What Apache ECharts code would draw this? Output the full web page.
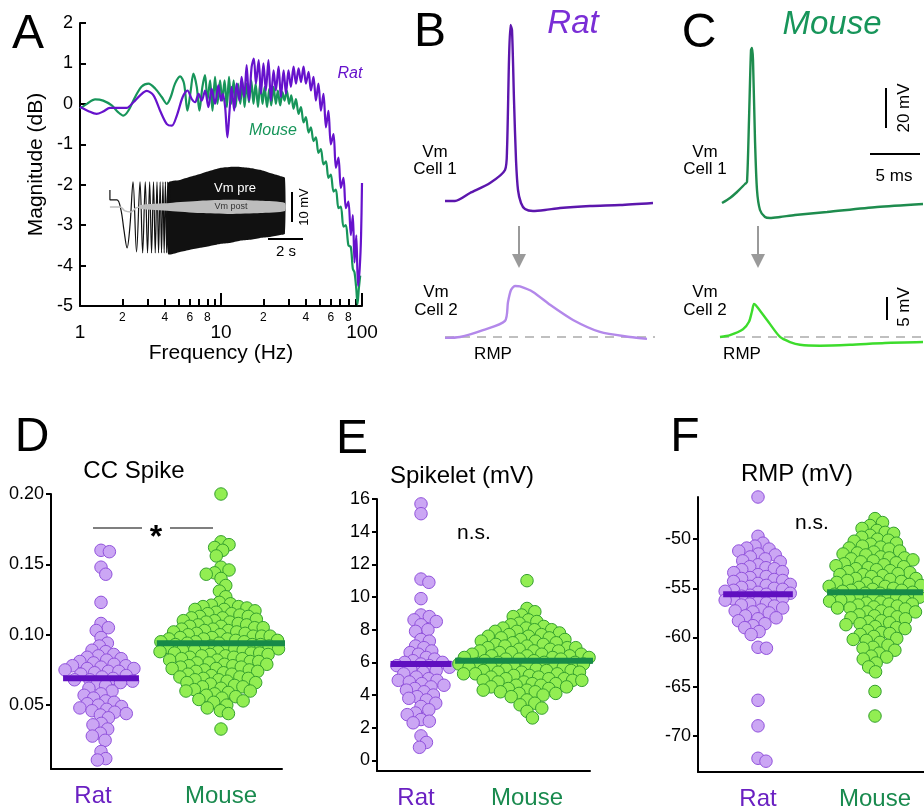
<!DOCTYPE html>
<html><head><meta charset="utf-8">
<script src="https://cdn.jsdelivr.net/npm/echarts@6/dist/echarts.min.js"></script>
<style>html,body{margin:0;padding:0;background:#fff}#c{width:924px;height:809px}</style>
</head><body><div id="c"></div>
<script>
// ---------------- DATA ----------------
// Panel A: frequency response (Hz, dB)
const ratFreq = [1.00,1.15,1.31,1.46,1.63,1.87,2.14,2.39,2.67,2.97,3.32,3.70,4.13,4.48,4.86,5.35,5.78,6.20,6.56,6.93,7.30,7.71,8.14,8.59,9.07,9.58,10.0,10.3,10.7,11.1,11.5,11.9,12.4,12.9,13.5,14.0,14.6,15.2,15.8,16.5,17.1,17.7,18.5,19.2,20.0,20.8,21.7,22.6,23.6,24.5,25.6,26.6,27.8,28.9,30.1,31.3,32.7,34.0,35.5,36.9,38.5,40.0,41.8,43.4,45.3,47.1,49.1,51.1,53.3,55.5,57.8,60.1,62.8,65.3,68.1,70.8,73.9,76.8,80.1,83.3,86.1,88.5,91.1,93.7,96.3,98.5,100];
const ratDb = [-0.07,-0.18,-0.25,-0.19,-0.10,-0.10,-0.10,0.04,0.21,0.32,0.21,-0.17,-0.50,-0.54,-0.29,0.17,0.33,0.12,0.04,0.25,0.08,0.33,-0.08,0.37,0.0,0.46,0.08,0.25,-0.08,-0.83,-0.17,0.42,-0.17,0.5,0.08,0.67,0.17,0.96,0.08,0.92,1.12,0.5,1.08,0.25,1.0,0.33,1.08,0.08,0.83,0.33,0.92,0.17,0.83,0.25,0.83,0.42,0.92,0.5,0.88,0.54,0.92,0.5,0.79,0.33,0.67,0.08,0.5,-0.17,0.25,-0.58,-0.17,-1.0,-0.75,-1.58,-1.33,-2.08,-1.83,-2.58,-2.42,-3.25,-2.75,-3.92,-3.25,-4.5,-4.08,-3.25,-1.96];
const mouseFreq = [1.0,1.12,1.28,1.46,1.68,1.87,2.03,2.20,2.46,2.74,3.06,3.41,3.80,4.13,4.40,4.72,5.13,5.47,5.78,6.10,6.37,6.73,7.03,7.38,7.71,8.01,8.37,8.70,9.07,9.43,9.85,10.2,10.6,11.0,11.4,11.8,12.3,12.7,13.2,13.7,14.2,14.7,15.2,15.8,16.4,17.0,17.6,18.3,19.0,19.7,20.4,21.2,22.0,22.7,23.6,24.5,25.3,26.3,27.3,28.2,29.3,30.4,31.5,32.7,34.0,35.5,36.9,38.5,40.0,41.8,43.4,45.3,47.1,49.1,51.1,53.3,55.5,57.8,60.1,62.8,65.3,68.1,70.8,73.9,76.8,80.1,83.3,86.1,88.5,91.1,92.9,94.9,97.1];
const mouseDb = [-0.12,0.0,0.11,0.08,-0.04,-0.21,-0.29,-0.17,0.17,0.43,0.5,0.38,0.17,0.0,0.17,0.5,0.68,0.5,-0.17,0.33,0.75,0.42,-0.17,0.42,0.71,0.08,0.58,-0.17,0.67,0.0,0.58,0.08,0.58,-0.08,0.67,0.0,0.58,-0.08,0.5,0.0,0.54,-0.08,0.5,0.04,0.58,0.0,0.5,-0.08,0.54,0.0,0.42,-0.08,0.38,-0.04,0.42,0.0,0.33,-0.04,0.29,0.08,0.33,0.0,0.21,-0.12,0.12,-0.25,-0.08,-0.46,-0.33,-0.71,-0.58,-0.92,-0.83,-1.21,-1.12,-1.5,-1.42,-1.83,-1.75,-2.17,-2.12,-2.58,-2.54,-3.04,-3.0,-3.5,-3.54,-4.08,-4.17,-4.58,-4.96,-4.58,-4.25];
const freqMinorTicks = [2,3,4,5,6,7,8,9,20,30,40,50,60,70,80,90];
const freqMinorLabels = [2,4,6,8,20,40,60,80];
const magTicks = [-5,-4,-3,-2,-1,0,1,2];

// Panel A inset: chirp (s, mV)
const chirpT = [0.11,0.11,0.51,0.74,0.91,1.09,1.26,1.43,1.63,1.83,1.98,2.13,2.26,2.38,2.49,2.60,2.70,2.80,2.89,2.98,3.06,3.14,3.21,3.28,3.35,3.41,3.47,3.53];
const chirpV = [5.3,2.2,2.2,-0.9,-7.2,-12.8,-5.6,7.8,-14.1,7.8,-14.4,7.8,-14.4,7.8,-14.4,7.8,-14.4,7.8,-14.4,7.8,-14.4,7.8,-14.4,7.8,-14.4,7.8,-14.4,7.8];
const envT   = [3.43,4.11,4.69,5.26,5.83,6.40,6.97,7.54,8.11,8.69,9.26,9.83,10.11];
const envTop = [7.5,8.4,9.4,10.3,11.3,12.2,12.5,12.5,12.2,11.6,10.6,9.7,9.1];
const envBot = [-14.7,-14.1,-13.4,-12.8,-12.2,-11.6,-11.3,-10.6,-10.3,-9.7,-9.4,-8.8,-8.4];
const postLineT = [0.11,0.69,0.97,1.31,1.60,1.83];
const postLineV = [0,0,-1.25,-1.56,-0.31,0];
const bandT   = [1.83,3.54,5.26,6.97,8.69,10.11];
const bandTop = [0.6,1.25,1.9,2.2,1.9,1.25];
const bandBot = [-0.6,-1.25,-1.9,-2.2,-1.9,-1.25];

// Panels B / C: example traces (ms, mV relative to rest)
const ratCell1T = [0,1,2.5,4.5,6.0,6.2,6.4,6.55,6.7,6.9,7.1,7.3,7.6,8.0,8.8,10,11.5,14.5,17.5,20.8];
const ratCell1V = [0,0,4,9,15.5,25.5,70.5,88,85.5,50.5,20.5,5.5,-1,-4,-5,-4.5,-3.5,-2.5,-2,-1];
const ratCell2T = [0,1.5,3.8,6.0,6.3,6.6,7.0,7.5,8.8,10.5,12.8,15.5,18.5,20.2];
const ratCell2V = [-0.2,0,1.5,3.5,7.6,10.2,11.1,11.0,9.8,7.0,3.7,1.1,0,-0.4];
const mouseCell1T = [0.2,1.0,1.7,2.5,2.7,2.9,3.1,3.2,3.3,3.5,3.7,4.0,4.5,5.0,6.0,7.5,10.7,15.7,20.3];
const mouseCell1V = [0,2.5,5.5,9.5,10.5,41.5,76.5,77.5,71.5,31.5,6.5,-3.5,-7,-7.5,-7,-6,-4.5,-2,-0.5];
const mouseCell2T = [0,1,2.3,2.9,3.2,3.4,3.7,4.7,6.0,7.0,8.0,10,13,16.5,20.3];
const mouseCell2V = [0,0.4,1.7,3.3,5.6,7.2,6.6,3.7,0,-1.1,-1.7,-1.9,-1.7,-1.3,-1.1];

// Panels D / E / F: group values
const groups = ['Rat', 'Mouse'];
const ccRat = [0.160,0.159,0.148,0.143,0.123,0.108,0.105,0.103,0.098,0.094,0.092,0.089,0.088,0.086,0.085,0.084,0.083,0.082,0.081,0.080,0.079,0.078,0.078,0.077,0.076,0.076,0.075,0.074,0.074,0.073,0.072,0.071,0.070,0.069,0.068,0.068,0.067,0.066,0.065,0.064,0.062,0.060,0.058,0.057,0.055,0.053,0.052,0.051,0.050,0.049,0.048,0.047,0.046,0.045,0.044,0.043,0.041,0.037,0.036,0.033,0.030,0.028,0.025,0.017,0.012,0.011];
const ccMouse = [0.200,0.166,0.164,0.162,0.160,0.156,0.148,0.146,0.144,0.143,0.140,0.135,0.131,0.127,0.123,0.122,0.121,0.120,0.120,0.119,0.118,0.118,0.117,0.116,0.115,0.115,0.114,0.113,0.113,0.112,0.112,0.111,0.110,0.110,0.109,0.109,0.108,0.107,0.107,0.106,0.106,0.105,0.105,0.104,0.104,0.103,0.103,0.102,0.102,0.101,0.101,0.100,0.100,0.099,0.099,0.099,0.098,0.098,0.097,0.097,0.097,0.096,0.096,0.095,0.095,0.095,0.094,0.094,0.093,0.093,0.093,0.092,0.092,0.091,0.091,0.091,0.090,0.090,0.089,0.089,0.089,0.088,0.088,0.087,0.087,0.087,0.086,0.086,0.085,0.085,0.085,0.084,0.084,0.083,0.083,0.082,0.082,0.081,0.081,0.080,0.080,0.079,0.079,0.078,0.078,0.077,0.077,0.076,0.076,0.075,0.075,0.074,0.074,0.073,0.072,0.072,0.071,0.070,0.070,0.069,0.069,0.068,0.068,0.067,0.066,0.066,0.065,0.064,0.063,0.063,0.062,0.061,0.060,0.060,0.059,0.058,0.057,0.056,0.055,0.054,0.053,0.052,0.050,0.048,0.046,0.044,0.033];
const ccMedian = [0.069, 0.094];
const ccTicks = [0.05, 0.10, 0.15, 0.20];
const spkRat = [15.7,15.1,11.1,10.9,9.9,8.9,8.8,8.6,8.5,8.3,8.0,7.9,7.4,7.3,7.0,6.9,6.7,6.6,6.5,6.3,6.2,6.1,6.0,6.0,5.9,5.8,5.8,5.7,5.6,5.5,5.4,5.3,5.1,5.0,4.9,4.9,4.8,4.7,4.6,4.5,4.4,4.3,4.2,4.0,3.9,3.8,3.7,3.5,3.3,3.1,2.9,2.8,2.5,2.4,2.3,1.5,1.1,0.8];
const spkMouse = [11.0,9.3,9.1,8.9,8.8,8.6,8.5,8.4,8.3,8.2,8.1,8.1,8.0,8.0,7.9,7.9,7.8,7.7,7.7,7.6,7.6,7.5,7.5,7.4,7.4,7.3,7.3,7.2,7.2,7.1,7.1,7.0,7.0,6.9,6.9,6.9,6.8,6.8,6.7,6.7,6.7,6.6,6.6,6.5,6.5,6.5,6.4,6.4,6.4,6.3,6.3,6.3,6.2,6.2,6.2,6.1,6.1,6.1,6.0,6.0,6.0,5.9,5.9,5.9,5.8,5.8,5.8,5.7,5.7,5.7,5.6,5.6,5.6,5.5,5.5,5.5,5.4,5.4,5.4,5.3,5.3,5.3,5.2,5.2,5.2,5.1,5.1,5.0,5.0,5.0,4.9,4.9,4.9,4.8,4.8,4.7,4.7,4.6,4.6,4.5,4.5,4.4,4.4,4.3,4.3,4.2,4.2,4.1,4.1,4.0,3.9,3.7,3.5,3.4,3.2,3.0,2.6];
const spkMedian = [5.9, 6.1];
const spkTicks = [0,2,4,6,8,10,12,14,16];
const rmpRat = [-45.7,-49.7,-50.4,-50.7,-50.9,-51.0,-51.2,-51.5,-51.6,-51.8,-52.0,-52.2,-52.3,-52.6,-52.8,-52.9,-53.0,-53.1,-53.3,-53.4,-53.6,-53.8,-53.9,-54.0,-54.1,-54.2,-54.3,-54.5,-54.6,-54.7,-54.8,-54.9,-55.0,-55.1,-55.2,-55.3,-55.4,-55.5,-55.6,-55.7,-55.8,-55.9,-56.0,-56.1,-56.2,-56.4,-56.5,-56.6,-56.7,-56.8,-57.0,-57.2,-57.3,-57.4,-57.5,-57.8,-58.0,-58.1,-58.3,-58.6,-58.8,-59.0,-59.4,-59.7,-61.0,-61.1,-66.4,-69.0,-72.3,-72.6];
const rmpMouse = [-47.9,-48.3,-48.6,-48.9,-49.1,-49.3,-49.4,-49.6,-49.8,-50.0,-50.1,-50.2,-50.4,-50.5,-50.7,-50.8,-50.9,-51.0,-51.2,-51.3,-51.4,-51.5,-51.6,-51.8,-51.9,-51.9,-52.0,-52.1,-52.2,-52.3,-52.4,-52.5,-52.6,-52.7,-52.8,-52.9,-53.0,-53.1,-53.2,-53.3,-53.4,-53.5,-53.6,-53.6,-53.7,-53.8,-54.0,-54.0,-54.1,-54.2,-54.3,-54.4,-54.4,-54.5,-54.6,-54.7,-54.8,-54.8,-54.9,-55.0,-55.1,-55.2,-55.2,-55.3,-55.4,-55.5,-55.5,-55.6,-55.7,-55.8,-55.9,-55.9,-56.0,-56.1,-56.2,-56.2,-56.3,-56.4,-56.5,-56.6,-56.6,-56.7,-56.8,-56.9,-57.0,-57.0,-57.1,-57.3,-57.4,-57.4,-57.5,-57.7,-57.8,-57.9,-58.0,-58.1,-58.3,-58.4,-58.5,-58.6,-58.7,-58.9,-59.0,-59.1,-59.3,-59.5,-59.6,-59.7,-59.9,-60.1,-60.2,-60.3,-60.5,-60.8,-61.0,-61.1,-61.3,-61.6,-61.9,-62.0,-62.2,-62.6,-63.0,-63.5,-65.5,-68.0];
const rmpMedian = [-55.6, -55.4];
const rmpTicks = [-70,-65,-60,-55,-50];

// ---------------- STYLE ----------------
const FONT = "'Liberation Sans', Arial, Helvetica, sans-serif";
const COL = {
  ratLine:'#6612cc', mouseLine:'#17955a',
  ratTitle:'#7a2ed6', mouseTitle:'#17955a',
  ratTrace1:'#5c16ad', ratTrace2:'#b388ea',
  mouseTrace1:'#1e8c4e', mouseTrace2:'#3ddc2c',
  ratFill:'#cba6f4', ratEdge:'#9152dc', mouseFill:'#92ee52', mouseEdge:'#35a02e',
  ratMed:'#600fc0', mouseMed:'#178a48', ratLabel:'#6a20c2', mouseLabel:'#198a4e'
};

const chart = echarts.init(document.getElementById('c'), null, {width:924, height:809});

const grids = [], xAxes = [], yAxes = [], series = [];
const hidden = (gi, min, max) => ({type:'value', gridIndex:gi, min, max, show:false, axisLine:{onZero:false}});

// ---- Panel A ----
grids.push({left:80, top:23, width:282, height:283});
xAxes.push({type:'log', gridIndex:0, logBase:10, min:1, max:100, position:'bottom',
  axisLine:{onZero:false, lineStyle:{color:'#000', width:2}},
  axisTick:{inside:true, length:13, lineStyle:{color:'#000', width:2}},
  axisLabel:{color:'#000', fontSize:19, margin:17, fontFamily:FONT},
  splitLine:{show:false}, minorTick:{show:false},
  name:'Frequency (Hz)', nameLocation:'middle', nameGap:37,
  nameTextStyle:{color:'#000', fontSize:21, fontFamily:FONT}});
xAxes.push({type:'value', gridIndex:0, min:0, max:2, position:'bottom',
  axisLine:{show:false, onZero:false},
  axisTick:{show:true, inside:true, length:7, customValues:freqMinorTicks.map(Math.log10), lineStyle:{color:'#000', width:2}},
  axisLabel:{show:true, color:'#000', fontSize:12, margin:6, fontFamily:FONT,
    customValues:freqMinorLabels.map(Math.log10),
    formatter:v=>{const f=Math.round(Math.pow(10,v)); return String(f>=10?f/10:f);}},
  splitLine:{show:false}});
yAxes.push({type:'value', gridIndex:0, min:-5, max:2, interval:1,
  axisLine:{show:true, onZero:false, lineStyle:{color:'#000', width:2}},
  axisTick:{show:true, inside:true, length:6, customValues:magTicks, lineStyle:{color:'#000', width:2}},
  axisLabel:{color:'#000', fontSize:18, margin:7, fontFamily:FONT, customValues:magTicks},
  splitLine:{show:false},
  name:'Magnitude (dB)', nameLocation:'middle', nameGap:33,
  nameTextStyle:{color:'#000', fontSize:21, fontFamily:FONT}});
series.push({type:'line', xAxisIndex:0, yAxisIndex:0, data:mouseFreq.map((f,i)=>[f, mouseDb[i]]),
  symbol:'none', smooth:0.3, lineStyle:{color:COL.mouseLine, width:2.2}, silent:true});
series.push({type:'line', xAxisIndex:0, yAxisIndex:0, data:ratFreq.map((f,i)=>[f, ratDb[i]]),
  symbol:'none', smooth:0.3, lineStyle:{color:COL.ratLine, width:2.2}, silent:true});

// ---- Panel A inset ----
grids.push({left:108, top:165, width:180, height:95});
xAxes.push(hidden(1, 0, 180/17.5));
yAxes.push(hidden(1, -16.6, 13.1));
const polySeries = (tArr, topArr, botArr, fill, z) => ({
  type:'custom', xAxisIndex:2, yAxisIndex:1, data:[[tArr[0], topArr[0]]], silent:true, clip:false, z,
  renderItem:(p, api)=>{
    const pts = [];
    tArr.forEach((t,i)=>pts.push(api.coord([t, topArr[i]])));
    for (let i=tArr.length-1;i>=0;i--) pts.push(api.coord([tArr[i], botArr[i]]));
    return {type:'polygon', shape:{points:pts, smooth:0.2}, style:{fill}};
  }});
series.push(polySeries(envT, envTop, envBot, '#111', 2));
series.push({type:'line', xAxisIndex:2, yAxisIndex:1, data:chirpT.map((t,i)=>[t, chirpV[i]]),
  symbol:'none', smooth:0.35, lineStyle:{color:'#111', width:1.2}, silent:true, z:2});
series.push(polySeries(bandT, bandTop, bandBot, '#bdbdbd', 3));
series.push({type:'line', xAxisIndex:2, yAxisIndex:1, data:postLineT.map((t,i)=>[t, postLineV[i]]),
  symbol:'none', smooth:0.4, lineStyle:{color:'#bdbdbd', width:1.5}, silent:true, z:3});

// ---- Panels B / C traces ----
const traceGrids = [
  {left:445, top:20, width:210, height:200, x:[0,21], y:[-9.5,90.5], T:ratCell1T, V:ratCell1V, c:COL.ratTrace1, rmp:false},
  {left:445, top:270, width:210, height:80, x:[0,21], y:[-2.83,14.57], T:ratCell2T, V:ratCell2V, c:COL.ratTrace2, rmp:true},
  {left:720, top:20, width:204, height:200, x:[0,20.4], y:[-8.5,91.5], T:mouseCell1T, V:mouseCell1V, c:COL.mouseTrace1, rmp:false},
  {left:720, top:270, width:204, height:80, x:[0,20.4], y:[-2.83,14.57], T:mouseCell2T, V:mouseCell2V, c:COL.mouseTrace2, rmp:true}
];
traceGrids.forEach(g=>{
  const gi = grids.length;
  grids.push({left:g.left, top:g.top, width:g.width, height:g.height});
  xAxes.push(hidden(gi, g.x[0], g.x[1]));
  yAxes.push(hidden(gi, g.y[0], g.y[1]));
  const s = {type:'line', xAxisIndex:xAxes.length-1, yAxisIndex:yAxes.length-1,
    data:g.T.map((t,i)=>[t, g.V[i]]), symbol:'none', smooth:0.25,
    lineStyle:{color:g.c, width:2.4}, silent:true, z:3};
  if (g.rmp) s.markLine = {silent:true, symbol:'none', label:{show:false},
    lineStyle:{color:'#aaaaaa', type:[9,7], width:1.6}, data:[{yAxis:0}], z:1};
  series.push(s);
});

// ---- Panels D / E / F ----
function swarm(vals, pxPerUnit, d) {
  const placed = [], out = new Array(vals.length);
  const order = vals.map((v,i)=>i).sort((a,b)=>vals[b]-vals[a]);
  for (const i of order) {
    const y = vals[i]*pxPerUnit;
    const cands = [0];
    for (const p of placed) {
      const dy = Math.abs(p.y-y);
      if (dy < d) { const dx = Math.sqrt(d*d-dy*dy); cands.push(p.x+dx, p.x-dx); }
    }
    cands.sort((a,b)=>Math.abs(a)-Math.abs(b));
    let xx = 0;
    for (const c of cands) {
      let ok = true;
      for (const p of placed) { const dx=p.x-c, dy=p.y-y; if (dx*dx+dy*dy < d*d-0.01) { ok=false; break; } }
      if (ok) { xx = c; break; }
    }
    placed.push({x:xx, y}); out[i] = xx;
  }
  return out;
}
const panels = [
  {left:51, top:494, width:231, height:275, ymin:0.0046, ymax:0.20, ticks:ccTicks, dec:2, ratX:101, mouseX:221, labelShift:8, data:[ccRat, ccMouse], med:ccMedian},
  {left:377, top:499, width:213, height:272, ymin:-0.65, ymax:16, ticks:spkTicks, dec:0, ratX:421, mouseX:527, labelShift:5, data:[spkRat, spkMouse], med:spkMedian},
  {left:698, top:497, width:240, height:275, ymin:-73.7, ymax:-45.7, ticks:rmpTicks, dec:0, ratX:758, mouseX:875, labelShift:0, data:[rmpRat, rmpMouse], med:rmpMedian}
];
panels.forEach(p=>{
  const gi = grids.length;
  const unit = p.mouseX - p.ratX;
  const xmin = 1 - (p.ratX - p.left)/unit, xmax = xmin + p.width/unit;
  const pxY = p.height/(p.ymax - p.ymin);
  grids.push({left:p.left, top:p.top, width:p.width, height:p.height});
  xAxes.push({type:'value', gridIndex:gi, min:xmin, max:xmax,
    axisLine:{show:true, onZero:false, lineStyle:{color:'#000', width:2}}, axisTick:{show:false}, splitLine:{show:false},
    axisLabel:{show:true, customValues:[1,2], margin:15, fontSize:24, fontFamily:FONT,
      formatter:v=>'{g'+Math.round(v)+'|'+groups[Math.round(v)-1]+'}',
      rich:{g1:{color:COL.ratLabel, fontSize:24, fontFamily:FONT, padding:[0,2*p.labelShift,0,0]},
            g2:{color:COL.mouseLabel, fontSize:24, fontFamily:FONT}}}});
  yAxes.push({type:'value', gridIndex:gi, min:p.ymin, max:p.ymax,
    axisLine:{show:true, onZero:false, lineStyle:{color:'#000', width:2}},
    axisTick:{show:true, inside:false, length:5, customValues:p.ticks, lineStyle:{color:'#000', width:2}},
    axisLabel:{show:true, customValues:p.ticks, color:'#000', fontSize:18, margin:7, fontFamily:FONT,
      formatter:v=>v.toFixed(p.dec)},
    splitLine:{show:false}});
  const xi = xAxes.length-1, yi = yAxes.length-1;
  [0,1].forEach(g=>{
    const vals = p.data[g];
    const offs = swarm(vals, pxY, 8.5);
    const cx = g+1;
    series.push({type:'scatter', xAxisIndex:xi, yAxisIndex:yi, silent:true, z:2,
      data:vals.map((v,i)=>[cx + offs[i]/unit, v]), symbolSize:12.5,
      itemStyle:{color:g?COL.mouseFill:COL.ratFill, borderColor:g?COL.mouseEdge:COL.ratEdge, borderWidth:1, opacity:1}});
    const hw = Math.max(...offs.map(Math.abs)) + 2;
    series.push({type:'line', xAxisIndex:xi, yAxisIndex:yi, silent:true, z:5, symbol:'none',
      data:[[cx - hw/unit, p.med[g]], [cx + hw/unit, p.med[g]]],
      lineStyle:{color:g?COL.mouseMed:COL.ratMed, width:6}});
  });
});

// ---------------- GRAPHIC (labels, scale bars) ----------------
const T = (x, y, text, size, extra) => Object.assign({type:'text', x, y, silent:true, z:10,
  style:Object.assign({text, fontSize:size, fontFamily:FONT, fill:'#000', align:'center', verticalAlign:'middle'}, (extra&&extra.style)||{})},
  extra && extra.rotation ? {rotation:extra.rotation} : {});
const L = (x1,y1,x2,y2,w,c) => ({type:'line', silent:true, z:10, shape:{x1,y1,x2,y2}, style:{stroke:c||'#000', lineWidth:w||2}});
const arrow = (x, y1, y2) => [L(x, y1, x, y2-12, 2, '#9a9a9a'),
  {type:'polygon', silent:true, z:10, shape:{points:[[x-7,y2-14],[x+7,y2-14],[x,y2]]}, style:{fill:'#9a9a9a'}}];
const graphic = [
  T(28,35,'A',48), T(430,33,'B',48), T(699,34,'C',48),
  T(32,438,'D',48), T(352,440,'E',48), T(685,438,'F',48),
  T(573,24,'Rat',33,{style:{fill:COL.ratTitle, fontStyle:'italic'}}),
  T(832,25,'Mouse',33,{style:{fill:COL.mouseTitle, fontStyle:'italic'}}),
  T(350,74,'Rat',16,{style:{fill:COL.ratLine, fontStyle:'italic'}}),
  T(273,131,'Mouse',16,{style:{fill:COL.mouseLine, fontStyle:'italic'}}),
  // inset labels
  T(235,188,'Vm pre',13,{style:{fill:'#fff'}}),
  T(231,207,'Vm post',9,{style:{fill:'#333'}}),
  L(292,192,292,222,2), T(304,207,'10 mV',13,{rotation:Math.PI/2}),
  L(268,239,303,239,2), T(286,252,'2 s',15),
  // B / C labels
  T(435,152,'Vm',17), T(435,169,'Cell 1',17),
  T(436,292,'Vm',17), T(436,310,'Cell 2',17),
  T(705,152,'Vm',17), T(705,169,'Cell 1',17),
  T(705,292,'Vm',17), T(705,310,'Cell 2',17),
  T(493,354,'RMP',17), T(742,354,'RMP',17),
  ...arrow(519,226,268), ...arrow(758,226,268),
  L(886,88,886,128,2), T(904,108,'20 mV',17,{rotation:Math.PI/2}),
  L(870,154,920,154,2), T(894,176,'5 ms',17),
  L(887,297,887,320,2), T(904,307,'5 mV',17,{rotation:Math.PI/2}),
  // bottom titles
  T(134,471,'CC Spike',24), T(462,476,'Spikelet (mV)',24), T(797,474,'RMP (mV)',24),
  L(93,528,142,528,1.2), L(170,528,213,528,1.2), T(156,538,'*',32,{style:{fontWeight:'bold'}}),
  T(474,533,'n.s.',21), T(812,523,'n.s.',21)
];

chart.setOption({
  animation:false,
  backgroundColor:'#fff',
  textStyle:{fontFamily:FONT},
  grid:grids.map(g=>Object.assign({containLabel:false, outerBoundsMode:'none'}, g)),
  xAxis:xAxes, yAxis:yAxes, series, graphic
});
</script></body></html>
